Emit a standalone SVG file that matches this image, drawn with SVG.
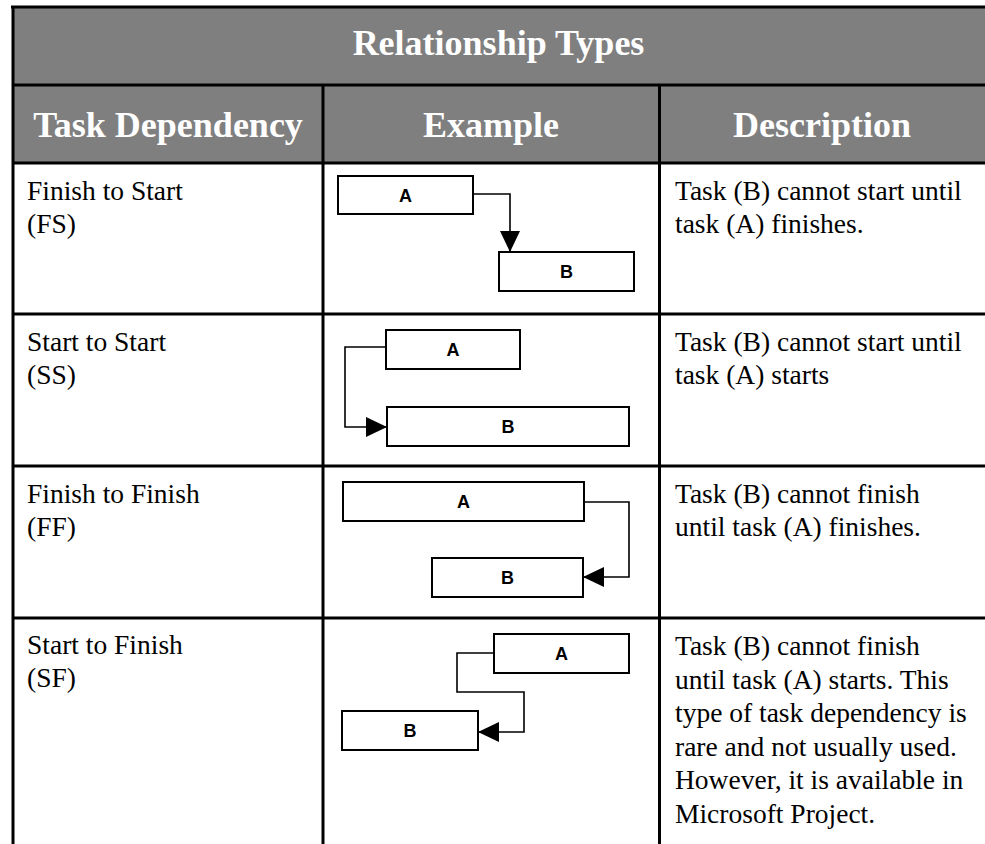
<svg xmlns="http://www.w3.org/2000/svg" width="985" height="844" viewBox="0 0 985 844">
  <style>
    .grid { stroke: #000; stroke-width: 3; fill: none; }
    .head { font-family: "Liberation Serif", "Times New Roman", serif; font-weight: bold; font-size: 36px; fill: #fff; text-anchor: middle; }
    .body { font-family: "Liberation Serif", "Times New Roman", serif; font-size: 27.5px; fill: #000; }
    .task rect { fill: #fff; stroke: #000; stroke-width: 2; }
    .task text { font-family: "Liberation Sans", Arial, sans-serif; font-weight: bold; font-size: 18px; fill: #000; text-anchor: middle; }
    .link { fill: none; stroke: #000; stroke-width: 1.6; marker-end: url(#arrow); }
  </style>
  <defs>
    <marker id="arrow" markerUnits="userSpaceOnUse" markerWidth="22" markerHeight="20" refX="21" refY="10" orient="auto">
      <path d="M0,0 L21,10 L0,20 Z" fill="#000"/>
    </marker>
  </defs>

  <rect width="985" height="844" fill="#fff"/>

  <!-- Table frame and header band -->
  <g id="table">
    <rect x="12" y="7" width="973" height="156" fill="#7f7f7f"/>
    <line class="grid" x1="11" y1="7" x2="985" y2="7"/>
    <line class="grid" x1="13" y1="6" x2="13" y2="844"/>
    <line class="grid" x1="12" y1="85" x2="985" y2="85"/>
    <line class="grid" x1="12" y1="163" x2="985" y2="163"/>
    <line class="grid" x1="12" y1="314" x2="985" y2="314"/>
    <line class="grid" x1="12" y1="466" x2="985" y2="466"/>
    <line class="grid" x1="12" y1="618" x2="985" y2="618"/>
    <line class="grid" x1="323" y1="85" x2="323" y2="844"/>
    <line class="grid" x1="659.5" y1="85" x2="659.5" y2="844"/>
    <text class="head" x="498.5" y="55">Relationship Types</text>
    <text class="head" x="168" y="137">Task Dependency</text>
    <text class="head" x="491" y="137">Example</text>
    <text class="head" x="822" y="137">Description</text>
  </g>

  <!-- Dependency names -->
  <g id="names" class="body">
    <text x="27" y="200">Finish to Start</text>
    <text x="27" y="232.5">(FS)</text>
    <text x="27" y="351">Start to Start</text>
    <text x="27" y="383.5">(SS)</text>
    <text x="27" y="503">Finish to Finish</text>
    <text x="27" y="535.5">(FF)</text>
    <text x="27" y="654">Start to Finish</text>
    <text x="27" y="686.5">(SF)</text>
  </g>

  <!-- Descriptions -->
  <g id="descriptions" class="body">
    <text x="675" y="200">Task (B) cannot start until</text>
    <text x="675" y="232.5">task (A) finishes.</text>
    <text x="675" y="351">Task (B) cannot start until</text>
    <text x="675" y="383.5">task (A) starts</text>
    <text x="675" y="503">Task (B) cannot finish</text>
    <text x="675" y="535.5">until task (A) finishes.</text>
    <text x="675" y="655">Task (B) cannot finish</text>
    <text x="675" y="688.5">until task (A) starts. This</text>
    <text x="675" y="722">type of task dependency is</text>
    <text x="675" y="755.5">rare and not usually used.</text>
    <text x="675" y="789">However, it is available in</text>
    <text x="675" y="822.5">Microsoft Project.</text>
  </g>

  <!-- Finish to Start example -->
  <g id="fs-a" class="task"><rect x="338" y="176" width="135" height="38"/><text x="405.5" y="201.5">A</text></g>
  <g id="fs-b" class="task"><rect x="499" y="252" width="135" height="39"/><text x="566.5" y="278">B</text></g>

  <!-- Start to Start example -->
  <g id="ss-a" class="task"><rect x="386" y="330" width="134" height="39"/><text x="453" y="356">A</text></g>
  <g id="ss-b" class="task"><rect x="387" y="407" width="242" height="39"/><text x="508" y="433">B</text></g>

  <!-- Finish to Finish example -->
  <g id="ff-a" class="task"><rect x="343" y="482" width="241" height="39"/><text x="463.5" y="508">A</text></g>
  <g id="ff-b" class="task"><rect x="432" y="558" width="151" height="39"/><text x="507.5" y="584">B</text></g>

  <!-- Start to Finish example -->
  <g id="sf-a" class="task"><rect x="494" y="634" width="135" height="39"/><text x="561.5" y="660">A</text></g>
  <g id="sf-b" class="task"><rect x="342" y="711" width="136" height="39"/><text x="410" y="737">B</text></g>

  <!-- Dependency connectors -->
  <g id="connectors">
    <path class="link" d="M473,194 H510 V252"/>
    <path class="link" d="M386,347 H345 V427 H387"/>
    <path class="link" d="M584,502 H629 V577 H583"/>
    <path class="link" d="M494,653 H457 V692 H524 V732 H478"/>
  </g>
</svg>
